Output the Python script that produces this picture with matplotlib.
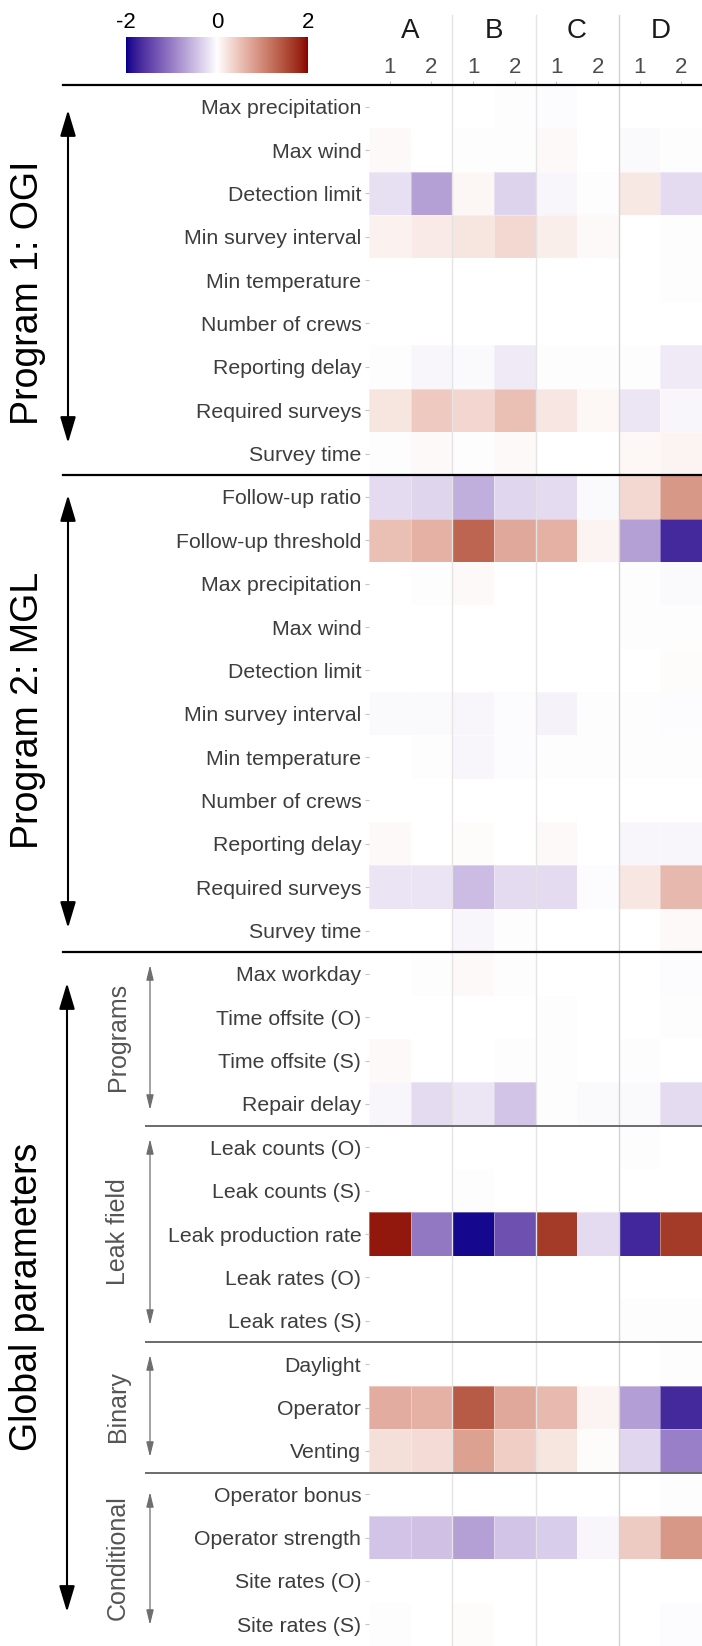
import numpy as np
import matplotlib
matplotlib.use("Agg")
import matplotlib.pyplot as plt
import matplotlib.colors as mcolors
import matplotlib.transforms as mtransforms
from matplotlib.lines import Line2D
from matplotlib.patches import FancyArrowPatch

plt.rcParams['font.family'] = ['Liberation Sans', 'DejaVu Sans']

# ---- data ----
columns = ['A', 'B', 'C', 'D']
sub_columns = ['1', '2']

ogi_params = ['Max precipitation', 'Max wind', 'Detection limit', 'Min survey interval',
              'Min temperature', 'Number of crews', 'Reporting delay', 'Required surveys',
              'Survey time']
ogi_values = [
    [0.00, 0.00, 0.00, -0.01, -0.03, 0.00, 0.00, 0.00],
    [0.04, 0.00, 0.02, 0.01, 0.04, 0.00, -0.04, -0.01],
    [-0.23, -0.72, 0.08, -0.32, -0.06, -0.02, 0.19, -0.27],
    [0.11, 0.17, 0.22, 0.32, 0.14, 0.04, 0.00, 0.01],
    [0.00, 0.00, 0.00, 0.00, 0.00, 0.00, 0.00, 0.02],
    [0.00, 0.00, 0.00, 0.00, 0.00, 0.00, 0.00, 0.00],
    [0.02, -0.06, -0.04, -0.15, 0.01, 0.01, -0.02, -0.15],
    [0.22, 0.45, 0.34, 0.53, 0.20, 0.07, -0.19, -0.06],
    [-0.02, 0.04, -0.01, 0.04, 0.00, 0.00, 0.07, 0.10],
]

mgl_params = ['Follow-up ratio', 'Follow-up threshold', 'Max precipitation', 'Max wind',
              'Detection limit', 'Min survey interval', 'Min temperature', 'Number of crews',
              'Reporting delay', 'Required surveys', 'Survey time']
mgl_values = [
    [-0.26, -0.31, -0.60, -0.30, -0.27, -0.05, 0.33, 0.87],
    [0.53, 0.65, 1.31, 0.73, 0.65, 0.10, -0.72, -1.69],
    [0.00, 0.01, 0.04, 0.00, 0.00, 0.00, -0.01, -0.04],
    [0.00, 0.00, 0.00, 0.00, 0.00, 0.00, 0.01, 0.02],
    [0.00, 0.00, 0.00, 0.00, 0.00, 0.00, 0.00, 0.03],
    [-0.05, -0.05, -0.07, -0.03, -0.10, -0.02, 0.01, -0.03],
    [0.00, -0.01, -0.07, -0.03, -0.01, -0.01, -0.02, 0.01],
    [0.00, 0.00, 0.00, 0.00, 0.00, 0.00, 0.00, 0.00],
    [0.04, 0.00, 0.03, 0.00, 0.04, 0.00, -0.07, -0.07],
    [-0.20, -0.20, -0.50, -0.27, -0.26, -0.03, 0.21, 0.59],
    [0.00, 0.00, -0.06, -0.01, 0.00, 0.00, 0.00, 0.04],
]

programs_params = ['Max workday', 'Time offsite (O)', 'Time offsite (S)', 'Repair delay']
programs_values = [
    [0.00, 0.01, 0.05, 0.02, 0.00, 0.00, 0.00, -0.03],
    [0.00, 0.00, 0.00, 0.00, 0.01, 0.00, 0.00, 0.01],
    [0.04, 0.00, 0.00, -0.02, 0.02, 0.00, -0.01, 0.00],
    [-0.06, -0.27, -0.18, -0.43, -0.02, -0.04, -0.05, -0.26],
]

leak_params = ['Leak counts (O)', 'Leak counts (S)', 'Leak production rate',
               'Leak rates (O)', 'Leak rates (S)']
leak_values = [
    [0.00, 0.00, 0.00, 0.00, 0.00, 0.00, 0.01, 0.00],
    [0.00, 0.00, 0.02, 0.00, 0.00, 0.00, 0.00, 0.00],
    [1.90, -1.04, -1.94, -1.37, 1.66, -0.26, -1.71, 1.66],
    [0.00, 0.00, 0.00, 0.00, 0.00, 0.00, 0.00, 0.00],
    [0.00, 0.00, 0.00, 0.00, 0.00, 0.00, 0.01, 0.01],
]

binary_params = ['Daylight', 'Operator', 'Venting']
binary_values = [
    [0.00, 0.00, 0.00, 0.00, 0.00, 0.00, 0.00, -0.01],
    [0.68, 0.65, 1.40, 0.73, 0.58, 0.10, -0.73, -1.69],
    [0.26, 0.29, 0.80, 0.40, 0.22, 0.03, -0.30, -0.98],
]

conditional_params = ['Operator bonus', 'Operator strength', 'Site rates (O)', 'Site rates (S)']
conditional_values = [
    [0.00, 0.00, 0.00, 0.00, 0.00, 0.00, 0.00, -0.01],
    [-0.44, -0.46, -0.72, -0.44, -0.38, -0.07, 0.43, 0.87],
    [0.00, 0.00, 0.00, 0.00, 0.00, 0.00, 0.00, 0.00],
    [0.01, 0.00, 0.03, 0.00, 0.00, 0.00, 0.00, -0.03],
]

row_labels = (ogi_params + mgl_params + programs_params + leak_params
              + binary_params + conditional_params)
values = np.array(ogi_values + mgl_values + programs_values + leak_values
                  + binary_values + conditional_values)
n_rows, n_cols = values.shape


# ---- diverging colour scale, interpolated in CIELAB ----
M = np.array([[0.4124564, 0.3575761, 0.1804375],
              [0.2126729, 0.7151522, 0.0721750],
              [0.0193339, 0.1191920, 0.9503041]])
WHITE = M @ np.ones(3)


def rgb_to_lab(rgb):
    rgb = np.asarray(rgb, float)
    lin = np.where(rgb <= 0.04045, rgb / 12.92, ((rgb + 0.055) / 1.055) ** 2.4)
    xyz = lin @ M.T / WHITE
    f = np.where(xyz > 216 / 24389, np.cbrt(xyz), (24389 / 27 * xyz + 16) / 116)
    return np.stack([116 * f[..., 1] - 16,
                     500 * (f[..., 0] - f[..., 1]),
                     200 * (f[..., 1] - f[..., 2])], axis=-1)


def lab_to_rgb(lab):
    fy_ = (lab[..., 0] + 16) / 116
    f = np.stack([fy_ + lab[..., 1] / 500, fy_, fy_ - lab[..., 2] / 200], axis=-1)
    xyz = np.where(f ** 3 > 216 / 24389, f ** 3, (116 * f - 16) / (24389 / 27)) * WHITE
    lin = np.clip(xyz @ np.linalg.inv(M).T, 0, 1)
    rgb = np.where(lin <= 0.0031308, 12.92 * lin, 1.055 * lin ** (1 / 2.4) - 0.055)
    return np.clip(rgb, 0, 1)


t = np.linspace(-1, 1, 257)[:, None]
lab_lo = rgb_to_lab(mcolors.to_rgb('darkblue'))
lab_mid = rgb_to_lab(mcolors.to_rgb('white'))
lab_hi = rgb_to_lab(mcolors.to_rgb('darkred'))
ends = np.where(t < 0, lab_lo, lab_hi)
cmap = mcolors.ListedColormap(lab_to_rgb(lab_mid * (1 - np.abs(t)) + ends * np.abs(t)))

# ---- figure ----
W, H = 702, 1646
fig = plt.figure(figsize=(W / 100, H / 100), dpi=100)


def px_x(p):
    return p / W


def px_y(p):
    return 1 - p / H


top = 85
ax = fig.add_axes([px_x(369), 0, px_x(333), (H - top) / H])
ax.pcolormesh(np.arange(n_cols + 1), np.arange(n_rows + 1), values, cmap=cmap,
              vmin=-2, vmax=2, edgecolors=(1, 1, 1, 0.35), linewidth=0.5)
ax.set_xlim(0, n_cols)
ax.set_ylim(n_rows, 0)
for s in ax.spines.values():
    s.set_visible(False)

ax.set_yticks(np.arange(n_rows) + 0.5, labels=row_labels, fontsize=15.3, color='#3d3d3d')
ax.tick_params(axis='y', length=3, width=0.8, color='#c4c4c4', pad=2.5)
ax.xaxis.tick_top()
ax.set_xticks(np.arange(n_cols) + 0.5, labels=sub_columns * len(columns),
              fontsize=16, color='#4d4d4d')
ax.tick_params(axis='x', length=3, width=0.8, color='#c4c4c4', pad=2)

# facet separators running up through the header
sep_tr = mtransforms.blended_transform_factory(ax.transData, fig.transFigure)
for xs, col in [(2, '#e4e4e4'), (4, '#e4e4e4'), (6, '#d2d2d2')]:
    fig.add_artist(Line2D([xs, xs], [0, px_y(15)], color=col, lw=1.0, transform=sep_tr))

# column letters
for i, c in enumerate(columns):
    fig.text(0, px_y(38), c, fontsize=20, ha='center', va='baseline', color='#1a1a1a',
             transform=sep_tr).set_x(2 * i + 1)

# group separators
hl_tr = mtransforms.blended_transform_factory(fig.transFigure, ax.transData)
for yb in [0, 9, 20]:
    fig.add_artist(Line2D([px_x(63), 1], [yb, yb], color='black', lw=1.6, transform=hl_tr))
for yb in [24, 29, 32]:
    fig.add_artist(Line2D([px_x(146), 1], [yb, yb], color='#6b6b6b', lw=1.4, transform=hl_tr))


def arrow(x, y0, y1, color, lw, scale, hl, hw):
    fig.add_artist(FancyArrowPatch((px_x(x), px_y(y0)), (px_x(x), px_y(y1)),
                                   arrowstyle=f'<|-|>,head_length={hl},head_width={hw}',
                                   mutation_scale=scale, color=color, lw=lw,
                                   shrinkA=0, shrinkB=0, transform=fig.transFigure))


# main section arrows and titles
arrow(68, 110, 443, 'black', 1.5, 20, 0.8, 0.24)
arrow(68, 495, 928, 'black', 1.5, 20, 0.8, 0.24)
arrow(67, 983, 1612, 'black', 1.5, 20, 0.8, 0.24)
fig.text(px_x(28), px_y(293), 'Program 1: OGI', rotation=90, fontsize=27,
         ha='center', va='center')
fig.text(px_x(28), px_y(710), 'Program 2: MGL', rotation=90, fontsize=27,
         ha='center', va='center')
fig.text(px_x(27), px_y(1297), 'Global parameters', rotation=90, fontsize=27,
         ha='center', va='center')

# global sub-groups
for name, y0, y1, yc in [('Programs', 965, 1110, 1037), ('Leak field', 1139, 1325, 1232),
                         ('Binary', 1355, 1457, 1407), ('Conditional', 1492, 1625, 1558)]:
    arrow(150, y0, y1, '#6e6e6e', 0.9, 10, 0.9, 0.22)
    fig.text(px_x(118), px_y(yc), name, rotation=90, fontsize=18, color='#555555',
             ha='center', va='center')

# colour bar
cax = fig.add_axes([px_x(126), px_y(73), px_x(308 - 126), 36 / H])
cax.imshow(np.linspace(-2, 2, 256)[None, :], aspect='auto', cmap=cmap, vmin=-2, vmax=2,
           extent=[-2, 2, 0, 1])
cax.set_axis_off()
cb_tr = mtransforms.blended_transform_factory(cax.transData, fig.transFigure)
for v in [-2, 0, 2]:
    fig.text(v, px_y(28), str(v), fontsize=16, ha='center', va='baseline',
             transform=cb_tr)

fig.savefig('out.png', dpi=100)
